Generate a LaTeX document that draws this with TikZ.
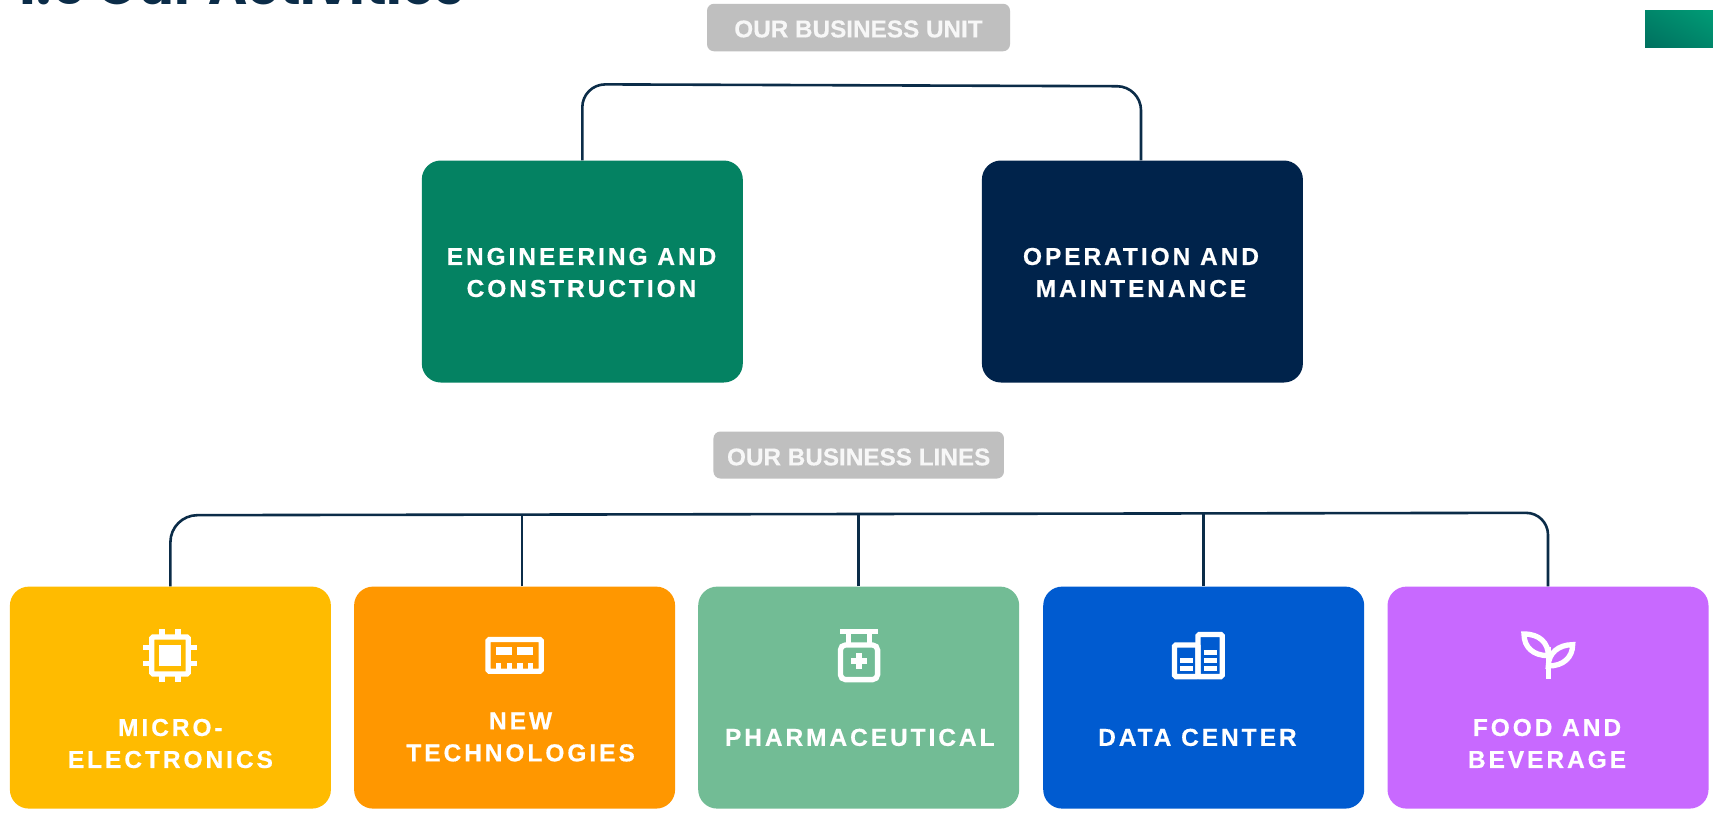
\documentclass[tikz,border=0pt]{standalone}
\usepackage{fontspec}
\usetikzlibrary{shadings}
\newfontfamily\labfont[LetterSpace=12,BoldFeatures={FakeBold=0.5}]{Liberation Sans}
\newfontfamily\tagfont[BoldFeatures={FakeBold=0.3}]{Liberation Sans}
\newfontfamily\titlefont{Poppins}
\definecolor{cgreen}{HTML}{048262}
\definecolor{cnavy}{HTML}{00234B}
\definecolor{cyel}{HTML}{FFBB00}
\definecolor{corange}{HTML}{FF9700}
\definecolor{csage}{HTML}{72BC95}
\definecolor{cblue}{HTML}{005BD0}
\definecolor{cpurple}{HTML}{C869FF}
\definecolor{cline}{HTML}{0B2C48}
\definecolor{ctag}{HTML}{BFBFBF}
\definecolor{gradA}{HTML}{00705F}
\definecolor{gradB}{HTML}{009C76}
\definecolor{gradM}{HTML}{00866A}
\tikzset{
  card/.style={rounded corners=19pt,minimum width=321pt,minimum height=222pt,inner sep=0pt},
  lab/.style={inner sep=0pt,align=center,text=white,font=\labfont\bfseries\fontsize{24.5}{32}\selectfont},
  tagbox/.style={fill=ctag,rounded corners=7pt,inner sep=0pt},
  taglab/.style={inner sep=0pt,text=white!97!black,font=\tagfont\bfseries\fontsize{24.3}{30}\selectfont},
  wire/.style={draw=cline,line width=2.6pt},
  ico/.style={draw=white,line width=5.3pt,fill=none},
  icof/.style={fill=white,draw=none}
}
\begin{document}
\begin{tikzpicture}[x=1pt,y=-1pt]
\useasboundingbox (0,0) rectangle (1713,812);
\fill[white] (0,0) rectangle (1713,812);
\clip (0,0) rectangle (1713,812);
% title cut by the top edge
\node[anchor=base west,inner sep=0pt,text=cline,font=\titlefont\bfseries\fontsize{53}{62}\selectfont] (title) at (16,4) {1.5 Our Activities};
% corner mark
\shade[lower left=gradA,upper right=gradB,lower right=gradM,upper left=gradM] (1645,10) rectangle (1713,47);
% tags
\node[tagbox,minimum width=303pt,minimum height=47.5pt] (tagA) at (858.5,27.5) {};
\node[tagbox,minimum width=290.5pt,minimum height=47pt] (tagB) at (858.7,455) {};
\node[taglab] (tagAl) at (858.5,29) {OUR BUSINESS UNIT};
\node[taglab] (tagBl) at (858.7,457) {OUR BUSINESS LINES};
% top cards
\node[card,fill=cgreen] (eng) at (582.3,271.5) {};
\node[card,fill=cnavy] (om) at (1142.4,271.5) {};
\node[lab] (engl) at (581.5,272.5) {ENGINEERING AND\\CONSTRUCTION};
\node[lab] (oml) at (1141,272.5) {OPERATION AND\\MAINTENANCE};
% bottom cards
\node[card,fill=cyel] (mc) at (170.4,697.6) {};
\node[card,fill=corange] (nt) at (514.6,697.6) {};
\node[card,fill=csage] (ph) at (858.7,697.6) {};
\node[card,fill=cblue] (dc) at (1203.7,697.6) {};
\node[card,fill=cpurple] (fb) at (1548,697.6) {};
\node[lab] (mcl) at (170.4,743.5) {MICRO-\\ELECTRONICS};
\node[lab] (ntl) at (520.6,737) {NEW\\TECHNOLOGIES};
\node[lab] (phl) at (859.8,737.4) {PHARMACEUTICAL};
\node[lab] (dcl) at (1197.4,737.4) {DATA CENTER};
\node[lab] (fbl) at (1547,743.5) {FOOD AND\\BEVERAGE};
% connectors
\coordinate (ta) at (582.3,84.3);
\coordinate (tb) at (1141,86.3);
\draw[wire] (eng.north) [rounded corners=23pt] -- (ta) [rounded corners=24pt] -- (tb) [sharp corners] -- (tb |- om.north);
\coordinate (ba) at (170.4,515.2);
\coordinate (bb) at (1548,512.8);
\draw[wire] (mc.north) [rounded corners=27pt] -- (ba) [rounded corners=22pt] -- (bb) [sharp corners] -- (fb.north);
\coordinate (b1) at (522,514.6);
\coordinate (b2) at (858.7,514);
\coordinate (b3) at (1203.7,513.4);
\draw[wire] (b1 |- nt.north) -- (b1);
\draw[wire] (ph.north) -- (b2);
\draw[wire] (dc.north) -- (b3);
% chip icon
\draw[ico,rounded corners=1.5pt] (151.7,637) rectangle (188.3,674);
\fill[icof] (159.3,645) rectangle (181,666);
\foreach \a in {159.3,175.3}{\fill[icof] (\a,629) rectangle ++(5.4,6); \fill[icof] (\a,676) rectangle ++(5.4,6);}
\foreach \a in {645,661}{\fill[icof] (143.3,\a) rectangle ++(6,5.4); \fill[icof] (191,\a) rectangle ++(6,5.4);}
% memory icon
\draw[ico,rounded corners=1.5pt] (488,639.4) rectangle (541.3,671.3);
\fill[icof] (496,647.3) rectangle (512,655.3);
\fill[icof] (517.3,647.3) rectangle (533.3,655.3);
\foreach \a in {496,506.7,517.3,528}{\fill[icof] (\a,663.3) rectangle ++(5.3,7);}
% bottle icon
\fill[icof] (840,629) rectangle (877.7,634.4);
\fill[icof] (845.7,634) rectangle (851,644);
\fill[icof] (867,634) rectangle (872.3,644);
\draw[ico,rounded corners=5pt] (840.4,645) rectangle (877.6,679.6);
\fill[icof] (851,658.3) rectangle (867,663.7);
\fill[icof] (856.3,653) rectangle (861.7,669);
% buildings icon
\draw[ico,rounded corners=1.5pt] (1174.4,645) rectangle (1198,676.6);
\draw[ico,rounded corners=1.5pt] (1198,634.4) rectangle (1222.3,676.6);
\foreach \a in {658.3,666.3}{\fill[icof] (1179.7,\a) rectangle ++(13.3,5);}
\foreach \a in {650.3,658.3,666.3}{\fill[icof] (1203.7,\a) rectangle ++(13.3,5);}
% sprout icon
\begin{scope}[shift={(1450pt,-610pt)},x=0.3333pt,y=-0.3333pt]
\draw[ico] (222,72) .. controls (268,72) and (295,98) .. (295,137) .. controls (250,137) and (222,112) .. (222,72) -- cycle;
\draw[ico] (295,168) .. controls (295,130) and (325,104) .. (368,104) .. controls (368,142) and (340,168) .. (295,168) -- cycle;
\draw[ico] (295,110) -- (295,208);
\end{scope}
\end{tikzpicture}
\end{document}
